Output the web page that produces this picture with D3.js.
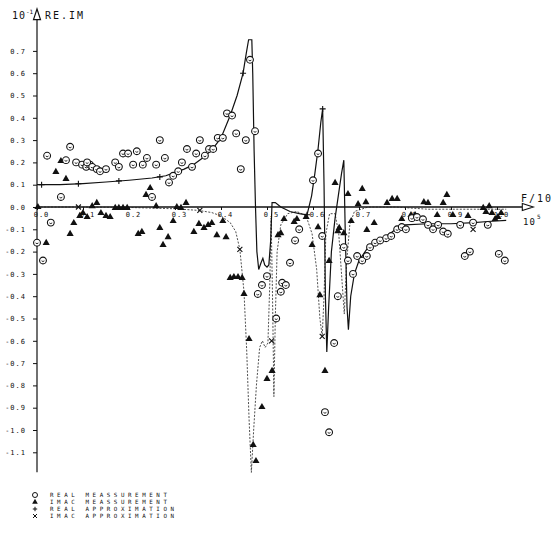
<!DOCTYPE html>
<html>
<head>
<meta charset="utf-8">
<script src="https://cdn.jsdelivr.net/npm/d3@7"></script>
<style>
  body { margin: 0; background: #fff; }
  text { font-family: 'DejaVu Sans Mono', monospace; fill: #111; }
</style>
</head>
<body>
<svg id="chart" width="555" height="538"></svg>
<script>
const realMeas = [
  [0.022,0.23],[0.072,0.27],[0.063,0.21],[0.085,0.20],[0.098,0.19],[0.107,0.18],[0.115,0.19],
  [0.109,0.20],[0.120,0.18],[0.130,0.17],[0.137,0.16],[0.150,0.17],[0.170,0.20],[0.178,0.18],
  [0.187,0.24],[0.198,0.24],[0.209,0.19],[0.217,0.25],[0.230,0.19],[0.239,0.22],[0.259,0.19],
  [0.267,0.30],[0.278,0.22],[0.287,0.11],[0.296,0.14],[0.307,0.16],[0.315,0.20],[0.326,0.26],
  [0.337,0.18],[0.346,0.24],[0.354,0.30],[0.365,0.23],[0.374,0.26],[0.383,0.26],[0.393,0.31],
  [0.404,0.31],[0.413,0.42],[0.424,0.41],[0.433,0.33],[0.443,0.17],[0.454,0.30],[0.463,0.66],
  [0.474,0.34],[0.052,0.045],[0.250,0.045],[0.030,-0.07],[0.0,-0.16],[0.013,-0.24],
  [0.611,0.24],[0.600,0.12],[0.570,-0.10],[0.561,-0.15],[0.550,-0.25],[0.533,-0.34],
  [0.500,-0.31],[0.489,-0.35],[0.480,-0.39],[0.541,-0.35],[0.530,-0.38],[0.520,-0.50],
  [0.654,-0.40],[0.646,-0.61],[0.626,-0.92],[0.635,-1.01],[0.620,-0.13],[0.667,-0.18],
  [0.676,-0.24],[0.687,-0.30],[0.696,-0.22],[0.707,-0.24],[0.717,-0.22],[0.724,-0.18],
  [0.735,-0.16],[0.746,-0.15],[0.759,-0.14],[0.770,-0.13],[0.783,-0.10],[0.793,-0.09],
  [0.802,-0.10],[0.815,-0.05],[0.826,-0.045],[0.839,-0.055],[0.850,-0.08],[0.861,-0.10],
  [0.872,-0.08],[0.883,-0.11],[0.893,-0.12],[0.920,-0.08],[0.948,-0.07],[0.980,-0.08],
  [0.930,-0.22],[0.941,-0.20],[1.004,-0.21],[1.017,-0.24]
];

const imagMeas = [
  [0.041,0.157],[0.063,0.126],[0.052,0.206],[0.246,0.085],[0.237,0.054],[0.002,0.0],
  [0.130,0.018],[0.120,0.004],[0.100,-0.027],[0.093,-0.040],[0.109,-0.045],[0.080,-0.072],
  [0.072,-0.121],[0.139,-0.027],[0.150,-0.040],[0.159,-0.045],[0.170,-0.004],[0.178,-0.004],
  [0.187,-0.004],[0.196,-0.004],[0.220,-0.121],[0.228,-0.112],[0.259,0.004],[0.267,-0.094],
  [0.285,-0.135],[0.274,-0.170],[0.296,-0.063],[0.304,0.0],[0.313,-0.004],[0.324,0.018],
  [0.341,-0.112],[0.352,-0.076],[0.363,-0.094],[0.372,-0.081],[0.380,-0.072],[0.391,-0.126],
  [0.411,-0.135],[0.020,-0.161],[0.404,-0.063],[0.420,-0.318],[0.428,-0.314],[0.437,-0.314],
  [0.446,-0.318],[0.450,-0.39],[0.461,-0.592],[0.470,-1.067],[0.476,-1.139],[0.500,-0.771],
  [0.489,-0.897],[0.511,-0.735],[0.615,-0.395],[0.626,-0.735],[0.537,-0.054],[0.524,-0.126],
  [0.530,-0.117],[0.559,-0.067],[0.565,-0.054],[0.585,-0.045],[0.611,-0.090],[0.598,-0.170],
  [0.648,0.108],[0.676,0.058],[0.698,0.013],[0.707,0.081],[0.715,0.022],[0.654,-0.108],
  [0.667,-0.117],[0.635,-0.242],[0.733,-0.072],[0.761,0.018],[0.772,0.036],[0.783,0.036],
  [0.793,-0.054],[0.813,-0.036],[0.822,-0.036],[0.841,0.022],[0.850,0.018],[0.883,0.018],
  [0.891,0.054],[0.870,-0.036],[0.904,-0.036],[0.937,-0.040],[0.970,-0.004],[0.976,-0.022],
  [0.983,0.004],[0.989,-0.027],[0.996,-0.054],[1.002,-0.045],[1.009,-0.027],[0.683,-0.063],
  [0.657,-0.094],[0.717,-0.103]
];

// Approximations
const realApprox = [
  [0,0.10],[0.05,0.10],[0.10,0.105],[0.15,0.112],[0.20,0.12],[0.25,0.13],[0.28,0.14],
  [0.30,0.155],[0.32,0.17],[0.34,0.19],[0.36,0.22],[0.38,0.255],[0.40,0.31],[0.42,0.41],
  [0.435,0.50],[0.448,0.60],[0.455,0.69],[0.460,0.75],[0.467,0.75],[0.469,0.60],[0.472,0.25],
  [0.475,0.0],[0.478,-0.20],[0.482,-0.28],[0.487,-0.25],[0.491,-0.23],[0.495,-0.26],
  [0.500,-0.27],[0.504,-0.26],[0.508,-0.15],[0.511,0.02],[0.518,0.02],[0.53,0.0],[0.55,-0.02],
  [0.57,-0.03],[0.587,-0.035],[0.597,0.05],[0.604,0.15],[0.611,0.26],[0.617,0.38],[0.621,0.44],
  [0.624,0.1],[0.627,-0.4],[0.630,-0.65],[0.634,-0.45],[0.640,-0.2],[0.648,-0.05],[0.655,0.05],
  [0.662,0.15],[0.667,0.21],[0.670,-0.1],[0.674,-0.45],[0.677,-0.55],[0.682,-0.40],[0.690,-0.30],
  [0.700,-0.24],[0.72,-0.18],[0.74,-0.15],[0.76,-0.13],[0.78,-0.10],[0.80,-0.08],[0.85,-0.075],
  [0.90,-0.075],[0.95,-0.07],[0.98,-0.065],[1.02,-0.06]
];
const realApproxMarks = [[0.01,0.10],[0.09,0.104],[0.178,0.117],[0.267,0.135],[0.448,0.60],[0.587,-0.035],[0.621,0.44]];

const imagApprox = [
  [0,0],[0.1,0],[0.2,-0.002],[0.3,-0.008],[0.35,-0.015],[0.38,-0.025],[0.40,-0.04],[0.42,-0.07],
  [0.432,-0.11],[0.441,-0.19],[0.450,-0.38],[0.456,-0.65],[0.461,-0.95],[0.466,-1.19],[0.471,-1.0],
  [0.477,-0.8],[0.484,-0.63],[0.490,-0.60],[0.496,-0.63],[0.502,-0.61],[0.506,-0.35],[0.509,-0.05],
  [0.512,-0.40],[0.515,-0.85],[0.518,-0.50],[0.522,-0.20],[0.53,-0.08],[0.545,-0.03],[0.565,-0.02],
  [0.585,-0.04],[0.598,-0.12],[0.608,-0.28],[0.615,-0.50],[0.620,-0.58],[0.624,-0.40],[0.628,-0.12],
  [0.636,-0.03],[0.648,-0.03],[0.656,-0.12],[0.662,-0.30],[0.668,-0.48],[0.673,-0.25],[0.680,-0.08],
  [0.69,-0.02],[0.72,0.0],[0.78,0.0],[0.85,-0.01],[0.90,-0.01],[0.95,-0.01],[1.02,-0.01]
];
const imagApproxMarks = [[0.09,0.0],[0.354,-0.015],[0.441,-0.19],[0.51,-0.6],[0.620,-0.58],[0.948,-0.10]];

const xTicks = [0.0,0.1,0.2,0.3,0.4,0.5,0.6,0.7,0.8,0.9,1.0];
const yTicks = [0.7,0.6,0.5,0.4,0.3,0.2,0.1,0.0,-0.1,-0.2,-0.3,-0.4,-0.5,-0.6,-0.7,-0.8,-0.9,-1.0,-1.1];
const legendLabels = ['REAL MEASSUREMENT','IMAC MEASSUREMENT','REAL APPROXIMATION','IMAC APPROXIMATION'];

const svg = d3.select('#chart');

// Échelles
const x = d3.scaleLinear().domain([0, 1]).range([37, 497]);
const y = d3.scaleLinear().domain([0, -1]).range([207, 430]);

// Axe Y
const yAxis = svg.append('g')
  .attr('transform', `translate(${x(0)},0)`)
  .call(d3.axisLeft(y).tickValues(yTicks).tickSize(4).tickSizeOuter(0).tickPadding(7)
    .tickFormat((d) => d.toFixed(1)));
yAxis.select('.domain').remove();
yAxis.selectAll('line').attr('stroke', '#111');
yAxis.selectAll('text').attr('font-size', 7).attr('letter-spacing', 1).attr('font-family', 'DejaVu Sans Mono');

svg.append('line')
  .attr('x1', x(0)).attr('x2', x(0))
  .attr('y1', y(0.84)).attr('y2', y(-1.19))
  .attr('stroke', '#111').attr('stroke-width', 1.2);
svg.append('path')
  .attr('d', `M${x(0) - 3.5},${y(0.84)} L${x(0)},${y(0.87) - 4} L${x(0) + 3.5},${y(0.84)} Z`)
  .attr('fill', '#fff').attr('stroke', '#111').attr('stroke-width', 1.2);

// Axe X
const xAxis = svg.append('g')
  .attr('transform', `translate(0,${y(0)})`)
  .call(d3.axisBottom(x).tickValues(xTicks).tickSize(3).tickSizeOuter(0).tickPadding(2)
    .tickFormat((d) => d.toFixed(1)));
xAxis.select('.domain').remove();
xAxis.selectAll('line').attr('stroke', '#111');
xAxis.selectAll('text').attr('font-size', 7).attr('letter-spacing', 1).attr('dx', 4)
  .attr('font-family', 'DejaVu Sans Mono');

svg.append('line')
  .attr('x1', x(0)).attr('x2', x(1.055))
  .attr('y1', y(0)).attr('y2', y(0))
  .attr('stroke', '#111').attr('stroke-width', 1.3);
svg.append('path')
  .attr('d', `M${x(1.055)},${y(0) - 3.5} L${x(1.055) + 11},${y(0)} L${x(1.055)},${y(0) + 3.5} Z`)
  .attr('fill', '#fff').attr('stroke', '#111').attr('stroke-width', 1.1);

// Titres des axes
svg.append('text').attr('x', 12).attr('y', 19).attr('font-size', 10).attr('letter-spacing', 1).text('10');
svg.append('text').attr('x', 26).attr('y', 14).attr('font-size', 6).text('-1');
svg.append('text').attr('x', 45).attr('y', 19).attr('font-size', 10).attr('letter-spacing', 2).text('RE.IM');
svg.append('text').attr('x', 521).attr('y', 202).attr('font-size', 10).attr('letter-spacing', 2).text('F/10');
svg.append('text').attr('x', 523).attr('y', 225).attr('font-size', 9).attr('letter-spacing', 1).text('10');
svg.append('text').attr('x', 537).attr('y', 219).attr('font-size', 6).text('5');

// Courbes d'approximation
const line = d3.line().x((d) => x(d[0])).y((d) => y(d[1]));

svg.append('path')
  .datum(imagApprox)
  .attr('d', line)
  .attr('fill', 'none').attr('stroke', '#222').attr('stroke-width', 0.8)
  .attr('stroke-dasharray', '2,1.5');

svg.append('path')
  .datum(realApprox)
  .attr('d', line)
  .attr('fill', 'none').attr('stroke', '#111').attr('stroke-width', 1.2);

const tri = d3.symbol().type(d3.symbolTriangle).size(22);

svg.append('g').selectAll('path')
  .data(realApproxMarks).enter().append('path')
  .attr('transform', (d) => `translate(${x(d[0])},${y(d[1])})`)
  .attr('d', 'M-3,0H3M0,-3V3')
  .attr('stroke', '#111').attr('stroke-width', 1.1);

svg.append('g').selectAll('path')
  .data(imagApproxMarks).enter().append('path')
  .attr('transform', (d) => `translate(${x(d[0])},${y(d[1])})`)
  .attr('d', 'M-2.5,-2.5L2.5,2.5M-2.5,2.5L2.5,-2.5')
  .attr('stroke', '#111').attr('stroke-width', 1.1);

// Mesures
svg.append('g').selectAll('path')
  .data(imagMeas).enter().append('path')
  .attr('transform', (d) => `translate(${x(d[0])},${y(d[1])})`)
  .attr('d', tri)
  .attr('fill', '#111');

const circles = svg.append('g').selectAll('g')
  .data(realMeas).enter().append('g')
  .attr('transform', (d) => `translate(${x(d[0])},${y(d[1])})`);
circles.append('circle').attr('r', 3.4).attr('fill', '#fff').attr('stroke', '#111').attr('stroke-width', 1.1);
circles.append('path').attr('d', 'M-1.4,0.3Q0,1.8 1.4,0.3').attr('fill', 'none').attr('stroke', '#111').attr('stroke-width', 0.9);

// Légende
const legend = svg.append('g');
const legendY = [497, 504, 511, 518];
legendLabels.forEach((label, i) => {
  const ly = legendY[i];
  const sx = 35;
  if (i === 0) {
    legend.append('circle').attr('cx', sx).attr('cy', ly - 2).attr('r', 2.5)
      .attr('fill', '#fff').attr('stroke', '#111').attr('stroke-width', 1);
  } else if (i === 1) {
    legend.append('path').attr('transform', `translate(${sx},${ly - 2})`)
      .attr('d', d3.symbol().type(d3.symbolTriangle).size(14)()).attr('fill', '#111');
  } else if (i === 2) {
    legend.append('path').attr('transform', `translate(${sx},${ly - 2})`)
      .attr('d', 'M-2.2,0H2.2M0,-2.2V2.2').attr('stroke', '#111').attr('stroke-width', 1);
  } else {
    legend.append('path').attr('transform', `translate(${sx},${ly - 2})`)
      .attr('d', 'M-2,-2L2,2M-2,2L2,-2').attr('stroke', '#111').attr('stroke-width', 1);
  }
  legend.append('text')
    .attr('x', 50).attr('y', ly)
    .attr('font-size', 5.8).attr('letter-spacing', 3.6)
    .text(label);
});
</script>
</body>
</html>
